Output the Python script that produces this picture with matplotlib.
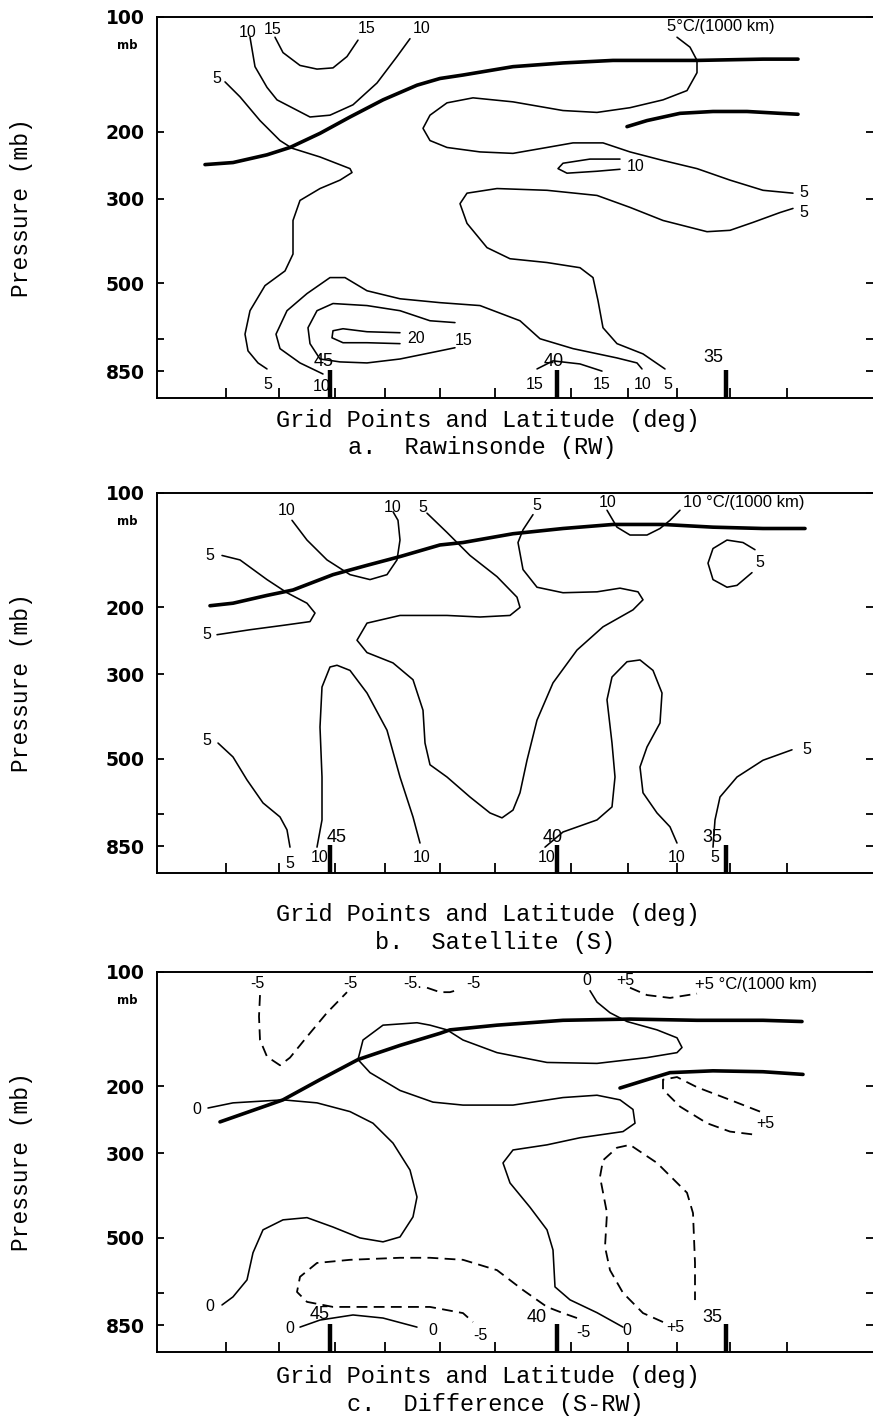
import matplotlib
matplotlib.use("Agg")
import matplotlib.pyplot as plt
from matplotlib.ticker import FixedLocator
from matplotlib.transforms import blended_transform_factory

# ---------------------------------------------------------------- axes data
P_TICKS = [100, 200, 300, 500, 700, 850]
P_TICK_LABELS = ["100", "200", "300", "500", "", "850"]
GRID_X = [6.9, 12.2, 17.8, 22.8, 28.3, 33.8, 41.4, 47.1, 52.0, 57.3, 63.0]
LAT_X = [17.3, 40.0, 56.9]
X_RANGE = (0, 71.6)
P_RANGE = (1000, 100)

# ------------------------------------------------ a. Rawinsonde (RW), °C/1000 km
A_TROP = ([4.8, 7.6, 11.0, 13.3, 16.3, 19.3, 22.6, 26.0, 28.3, 30.6, 35.6, 40.6, 45.6, 54.0, 60.6, 64.1],
          [244, 241, 230, 220, 202, 183, 165, 151, 145, 142, 135, 132, 130, 130, 129, 129])
A_TROP2 = ([47.0, 49.0, 52.3, 55.6, 59.0, 62.3, 64.1],
           [194, 187, 179, 177, 177, 179, 180])
A_10_TOP = ([9.3, 9.8, 11.0, 12.0, 15.3, 17.3, 19.6, 22.0, 24.0, 25.3],
            [113, 135, 153, 165, 183, 181, 170, 149, 127, 114])
A_15_TOP = ([11.8, 12.6, 14.3, 16.0, 17.6, 19.0, 20.1],
            [113, 124, 134, 137, 136, 127, 115])
A_5_LEFT = ([6.8, 8.3, 10.3, 12.3, 13.5, 16.3, 19.3, 19.5, 18.3, 16.3, 14.3, 13.6, 13.6, 12.8, 10.8, 9.3,
             8.8, 9.1, 10.1, 11.0],
            [148, 162, 187, 211, 221, 233, 250, 256, 268, 282, 303, 342, 419, 464, 507, 590, 680, 752, 809, 839])
A_10_LOW = ([16.6, 14.3, 12.3, 11.9, 13.0, 15.0, 17.3, 18.8, 21.0, 24.3, 28.3, 32.3, 36.3, 38.3, 41.6, 46.0,
             48.0, 48.5],
            [865, 809, 742, 680, 590, 532, 483, 483, 523, 549, 562, 572, 627, 699, 742, 785, 809, 839])
A_15_LOW = ([29.8, 27.3, 24.3, 21.0, 17.6, 16.0, 15.1, 15.3, 16.3, 18.3, 21.0, 24.3, 28.3, 29.8],
            [634, 627, 590, 572, 565, 590, 654, 720, 790, 804, 809, 790, 752, 738])
A_20 = ([24.3, 21.0, 18.6, 17.6, 17.5, 18.6, 21.0, 24.3],
        [674, 670, 658, 666, 695, 716, 716, 720])
A_15_RIGHT = ([38.0, 39.6, 42.3, 44.5],
              [839, 799, 814, 850])
A_5_LONG = ([50.8, 48.6, 46.0, 44.6, 44.1, 43.6, 42.3, 39.0, 35.3, 33.0, 31.0, 30.3, 31.0, 34.0, 39.0, 44.0,
             47.3, 50.6, 55.0, 57.3, 59.6, 62.3, 63.6],
            [839, 766, 720, 654, 555, 483, 455, 441, 431, 403, 348, 309, 290, 282, 285, 294, 316, 342, 366,
             363, 346, 326, 318])
A_5_UPPER = ([52.0, 53.3, 54.0, 54.0, 53.0, 50.6, 47.3, 44.0, 40.6, 35.6, 31.6, 29.0, 27.3, 26.6, 27.3, 29.0,
              32.3, 35.6, 39.0, 41.6, 44.6, 47.3, 50.6, 54.0, 57.3, 60.6, 63.6],
             [113, 120, 130, 140, 156, 165, 173, 178, 176, 167, 163, 168, 181, 196, 211, 220, 226, 228, 220,
              214, 214, 226, 238, 250, 268, 285, 290])
A_10_LOOP = ([46.3, 43.3, 40.6, 40.1, 41.0, 44.0, 46.3],
             [236, 236, 242, 250, 257, 254, 251])
A_LABELS = [(9.1, 110, "10"), (11.6, 108, "15"), (21.0, 107, "15"), (26.5, 107, "10"), (6.0, 145, "5"),
            (47.9, 247, "10"), (64.7, 289, "5"), (64.7, 326, "5"), (25.9, 700, "20"), (30.7, 708, "15"),
            (11.1, 920, "5"), (16.5, 935, "10"), (37.8, 920, "15"), (44.5, 920, "15"), (48.6, 920, "10"),
            (51.1, 920, "5")]
A_LAT = [(16.7, 800, "45"), (39.7, 800, "40"), (55.6, 785, "35")]
A_UNIT = (51.0, 106, "5°C/(1000 km)")

# ---------------------------------------------------------- b. Satellite (S)
B_TROP = ([5.3, 7.6, 11.0, 13.6, 17.6, 21.0, 24.3, 28.3, 30.6, 35.6, 40.6, 45.6, 50.6, 55.6, 60.6, 64.8],
          [198, 195, 186, 180, 164, 155, 147, 137, 135, 128, 124, 121, 121, 123, 124, 124])
B_10_A = ([13.5, 15.0, 17.0, 19.3, 21.3, 23.0, 24.0, 24.3, 24.1, 23.6],
          [118, 133, 150, 164, 169, 164, 150, 133, 118, 112])
B_5_BIG = ([27.0, 29.0, 31.3, 34.0, 36.0, 36.3, 35.3, 32.3, 29.0, 24.3, 21.0, 20.0, 21.0, 23.6, 25.6, 26.6,
            26.8, 27.3, 29.0, 31.3, 33.3, 34.5, 35.6, 36.3, 37.0, 38.0, 39.6, 42.0, 44.6, 47.6, 48.6, 48.1,
            46.3, 44.0, 40.6, 38.0, 36.6, 36.1, 36.6, 37.6],
           [113, 127, 146, 166, 188, 200, 210, 212, 210, 210, 220, 244, 263, 280, 310, 373, 455, 519, 559,
            631, 695, 716, 683, 615, 505, 396, 316, 259, 225, 203, 191, 182, 178, 182, 183, 177, 159, 135,
            125, 114])
B_5_LEFT = ([6.5, 8.3, 11.0, 13.0, 15.0, 15.8, 15.3, 12.6, 9.3, 6.0],
            [146, 150, 169, 183, 195, 207, 218, 223, 229, 236])
B_5_LOWLEFT = ([6.1, 7.6, 9.0, 10.6, 12.3, 13.0, 13.3],
               [455, 495, 569, 654, 712, 770, 855])
B_10_B = ([16.0, 16.5, 16.5, 16.3, 16.5, 17.3, 18.0, 19.3, 21.0, 23.0, 24.3, 25.6, 26.3],
          [855, 725, 559, 413, 324, 287, 284, 293, 336, 421, 559, 712, 834])
B_10_C = ([38.8, 40.6, 44.0, 45.5, 45.8, 45.5, 45.0, 45.5, 47.0, 48.3, 49.6, 50.5, 50.3, 49.0, 48.3, 48.6,
           50.0, 51.3, 52.0],
          [855, 780, 725, 670, 559, 455, 350, 305, 278, 275, 293, 336, 403, 466, 526, 615, 695, 756, 834])
B_10_TOP = ([45.0, 46.0, 47.3, 49.0, 50.3, 51.3, 52.3],
            [111, 123, 129, 129, 124, 118, 111])
B_5_LOOP = ([59.8, 58.6, 57.0, 55.6, 55.1, 55.6, 57.0, 58.0, 59.5],
            [141, 135, 133, 140, 153, 169, 177, 175, 162])
B_5_RIGHT = ([63.5, 60.6, 58.0, 56.3, 55.8, 55.6],
             [474, 505, 559, 631, 725, 855])
B_LABELS = [(13.0, 111, "10"), (23.6, 109, "10"), (26.6, 109, "5"), (5.3, 146, "5"), (5.0, 236, "5"),
            (5.0, 447, "5"), (13.3, 942, "5"), (16.3, 908, "10"), (26.5, 908, "10"), (39.0, 908, "10"),
            (52.0, 908, "10"), (55.8, 908, "5"), (65.0, 474, "5"), (60.3, 152, "5"), (38.0, 108, "5"),
            (45.1, 106, "10")]
B_LAT = [(18.0, 806, "45"), (39.6, 806, "40"), (55.5, 806, "35")]
B_UNIT = (52.6, 106, "10 °C/(1000 km)")

# ------------------------------------------------------ c. Difference (S-RW)
C_TROP = ([6.3, 12.6, 16.3, 20.1, 24.3, 28.3, 29.3, 34.0, 40.6, 47.3, 54.0, 60.6, 64.5],
          [248, 217, 192, 170, 156, 145, 142, 138, 134, 133, 134, 134, 135])
C_TROP2 = ([46.3, 49.0, 51.3, 55.6, 60.6, 64.6],
           [202, 192, 184, 182, 183, 186])
C_M5_A = ([10.3, 10.2, 10.3, 11.0, 12.3, 13.3, 15.0, 17.0, 19.0],
          [115, 131, 151, 167, 176, 168, 148, 128, 113])
C_M5_B = ([27.0, 28.3, 29.3, 30.3],
          [110, 113, 113, 111])
C_0_BIG = ([43.3, 44.0, 45.3, 47.0, 50.0, 52.0, 52.5, 52.0, 49.0, 44.0, 39.0, 34.0, 30.6, 29.0, 27.3, 26.0,
            22.6, 20.6, 20.1, 21.3, 24.3, 27.6, 30.6, 35.6, 40.6, 44.0, 46.3, 47.6, 47.8, 46.6, 42.3, 39.0,
            35.6, 34.6, 35.3, 37.3, 39.0, 39.6, 39.8, 41.3, 44.0, 46.6],
           [112, 120, 128, 135, 142, 149, 158, 163, 168, 174, 173, 163, 151, 142, 138, 136, 138, 151, 170,
            184, 205, 220, 224, 224, 214, 211, 217, 230, 250, 263, 273, 285, 294, 318, 359, 416, 477, 539,
            674, 729, 788, 860])
C_0_LEFT = ([5.1, 7.6, 12.6, 16.0, 19.3, 21.6, 23.6, 25.3, 26.0, 25.6, 24.3, 22.6, 20.3, 17.6, 15.0, 12.6,
             10.6, 9.6, 9.0, 7.6, 6.5],
            [228, 221, 217, 221, 233, 250, 282, 332, 391, 441, 498, 513, 501, 469, 443, 449, 477, 548, 646,
             716, 752])
C_0_BOTTOM = ([14.3, 16.3, 19.6, 22.6, 26.0],
              [860, 824, 799, 814, 860])
C_M5_LOW = ([42.0, 40.6, 39.0, 36.6, 34.0, 30.6, 27.3, 24.3, 19.3, 16.0, 14.3, 14.0, 15.0, 17.6, 22.6, 27.3,
             30.6, 31.6],
            [814, 790, 761, 687, 609, 572, 565, 565, 572, 583, 634, 695, 738, 761, 761, 761, 790, 834])
C_P5_TOP = ([47.3, 49.0, 51.3, 54.0],
            [110, 115, 117, 114])
C_P5_MID = ([60.3, 57.3, 54.0, 52.0, 50.6, 50.6, 52.3, 55.0, 57.3, 59.8],
            [233, 217, 201, 189, 192, 204, 226, 250, 263, 268])
C_P5_LOW = ([50.6, 48.6, 46.6, 45.3, 44.8, 45.0, 44.3, 44.6, 46.0, 47.3, 50.0, 53.0, 53.6, 53.8, 53.8],
            [834, 790, 699, 609, 529, 431, 346, 313, 290, 285, 318, 381, 431, 583, 730])
C_LABELS = [(10.0, 107, "-5"), (19.3, 107, "-5"), (25.6, 107, "-5."), (31.6, 107, "-5"), (43.0, 105, "0"),
            (46.8, 105, "+5"), (4.0, 230, "0"), (60.8, 250, "+5"), (5.3, 761, "0"), (13.3, 865, "0"),
            (27.6, 877, "0"), (32.3, 903, "-5"), (42.6, 891, "-5"), (47.0, 877, "0"), (51.8, 860, "+5")]
C_LAT = [(16.3, 799, "45"), (38.0, 809, "40"), (55.5, 809, "35")]
C_UNIT = (53.8, 108, "+5 °C/(1000 km)")

# ------------------------------------------------------------------ styles
THIN = dict(color="black", lw=1.15, solid_capstyle="round", solid_joinstyle="round")
THICK = dict(color="black", lw=2.6, solid_capstyle="round", solid_joinstyle="round")
DASH = dict(color="black", lw=1.3, linestyle=(0, (6, 3.5)), dash_capstyle="butt")

PANELS = [
    dict(top=17, bottom=398, lines=[(A_TROP, THICK), (A_TROP2, THICK), (A_10_TOP, THIN), (A_15_TOP, THIN),
                                    (A_5_LEFT, THIN), (A_10_LOW, THIN), (A_15_LOW, THIN), (A_20, THIN),
                                    (A_15_RIGHT, THIN), (A_5_LONG, THIN), (A_5_UPPER, THIN),
                                    (A_10_LOOP, THIN)],
         labels=A_LABELS, lat=A_LAT, unit=A_UNIT,
         xlabel_y=420, title_y=447, title="a.  Rawinsonde (RW)", title_x=482),
    dict(top=493, bottom=873, lines=[(B_TROP, THICK), (B_10_A, THIN), (B_5_BIG, THIN), (B_5_LEFT, THIN),
                                     (B_5_LOWLEFT, THIN), (B_10_B, THIN), (B_10_C, THIN), (B_10_TOP, THIN),
                                     (B_5_LOOP, THIN), (B_5_RIGHT, THIN)],
         labels=B_LABELS, lat=B_LAT, unit=B_UNIT,
         xlabel_y=915, title_y=943, title="b.  Satellite (S)", title_x=495),
    dict(top=972, bottom=1352, lines=[(C_TROP, THICK), (C_TROP2, THICK), (C_M5_A, DASH), (C_M5_B, DASH),
                                      (C_0_BIG, THIN), (C_0_LEFT, THIN), (C_0_BOTTOM, THIN),
                                      (C_M5_LOW, DASH), (C_P5_TOP, DASH), (C_P5_MID, DASH),
                                      (C_P5_LOW, DASH)],
         labels=C_LABELS, lat=C_LAT, unit=C_UNIT,
         xlabel_y=1377, title_y=1405, title="c.  Difference (S-RW)", title_x=495),
]

W, H = 873, 1418
fig = plt.figure(figsize=(W / 100, H / 100), dpi=100)

MONO = "Liberation Mono"
HAND = "Liberation Sans"

for panel in PANELS:
    left = 157
    ax = fig.add_axes([left / W, 1 - panel["bottom"] / H, (W - left) / W,
                       (panel["bottom"] - panel["top"]) / H])
    ax.set_yscale("log")
    ax.set_ylim(*P_RANGE)
    ax.set_xlim(*X_RANGE)
    ax.spines["right"].set_visible(False)
    for s in ("left", "top", "bottom"):
        ax.spines[s].set_linewidth(1.4)

    ax.yaxis.set_major_locator(FixedLocator(P_TICKS))
    ax.yaxis.set_minor_locator(FixedLocator([]))
    ax.set_yticklabels(P_TICK_LABELS, fontfamily="DejaVu Sans", fontweight="bold", fontsize=13.5)
    ax.tick_params(axis="y", which="major", direction="in", length=5, width=1.3,
                   left=True, right=True, pad=9)

    ax.xaxis.set_major_locator(FixedLocator(LAT_X))
    ax.xaxis.set_minor_locator(FixedLocator(GRID_X))
    ax.tick_params(axis="x", which="major", direction="in", length=20, width=3.2, labelbottom=False)
    ax.tick_params(axis="x", which="minor", direction="in", length=7, width=1.3)

    trans = blended_transform_factory(ax.transAxes, ax.transData)
    ax.text(-0.041, 119, "mb", transform=trans, ha="center", va="center",
            fontsize=8.5, fontweight="bold", family="DejaVu Sans")

    for (xs, ps), style in panel["lines"]:
        ax.plot(xs, ps, **style)

    for x, p, t in panel["labels"]:
        ax.text(x, p, t, ha="center", va="center", fontsize=11.5, family=HAND)
    for x, p, t in panel["lat"]:
        ax.text(x, p, t, ha="center", va="center", fontsize=13, family=HAND)
    ux, up, ut = panel["unit"]
    ax.text(ux, up, ut, ha="left", va="center", fontsize=12, family=HAND)

    fig.text(22 / W, 1 - (panel["top"] + panel["bottom"]) / 2 / H, "Pressure (mb)",
             rotation=90, ha="center", va="center", fontsize=16.5, family=MONO)
    fig.text(488 / W, 1 - panel["xlabel_y"] / H, "Grid Points and Latitude (deg)",
             ha="center", va="center", fontsize=17, family=MONO)
    fig.text(panel["title_x"] / W, 1 - panel["title_y"] / H, panel["title"],
             ha="center", va="center", fontsize=17, family=MONO)

fig.savefig("out.png", dpi=100)
